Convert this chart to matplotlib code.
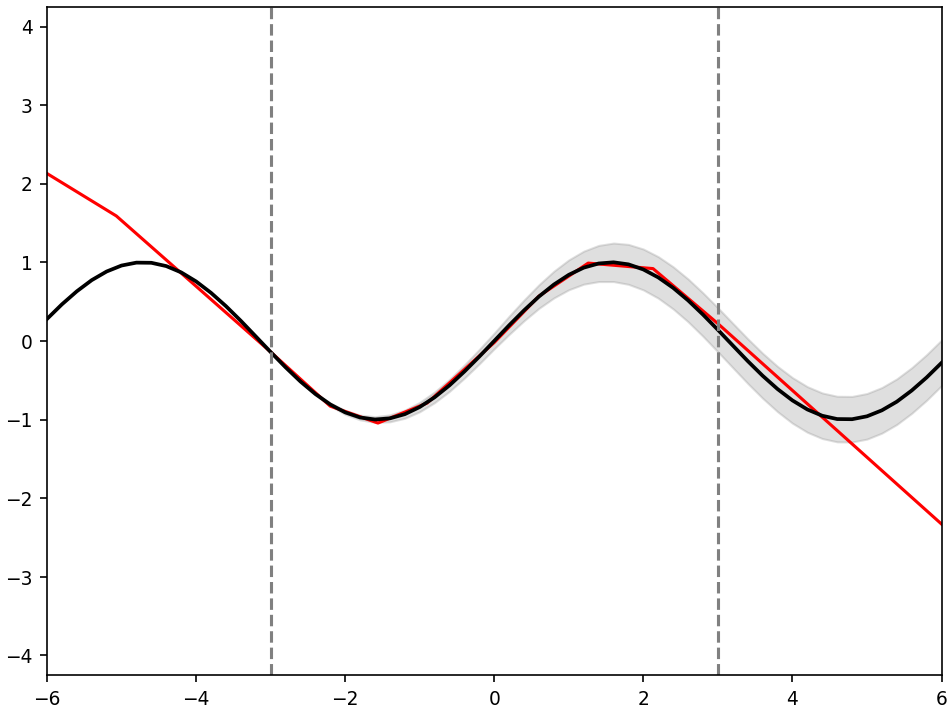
"""
Sine curve with a widening grey uncertainty band, a red piecewise-linear fit
and dashed markers at x = -3 and x = 3 -> out.png
"""
import matplotlib
matplotlib.use("Agg")
import matplotlib.pyplot as plt

# black curve, every 0.2
curve_x = [-6.0, -5.8, -5.6, -5.4, -5.2, -5.0, -4.8, -4.6, -4.4, -4.2,
           -4.0, -3.8, -3.6, -3.4, -3.2, -3.0, -2.8, -2.6, -2.4, -2.2,
           -2.0, -1.8, -1.6, -1.4, -1.2, -1.0, -0.8, -0.6, -0.4, -0.2,
           0.0, 0.2, 0.4, 0.6, 0.8, 1.0, 1.2, 1.4, 1.6, 1.8,
           2.0, 2.2, 2.4, 2.6, 2.8, 3.0, 3.2, 3.4, 3.6, 3.8,
           4.0, 4.2, 4.4, 4.6, 4.8, 5.0, 5.2, 5.4, 5.6, 5.8, 6.0]
curve_y = [0.279, 0.465, 0.631, 0.773, 0.883, 0.959, 0.996, 0.994, 0.952, 0.872,
           0.757, 0.612, 0.443, 0.256, 0.058, -0.141, -0.335, -0.516, -0.675, -0.808,
           -0.909, -0.974, -1.0, -0.985, -0.932, -0.841, -0.717, -0.565, -0.389, -0.199,
           0.0, 0.199, 0.389, 0.565, 0.717, 0.841, 0.932, 0.985, 1.0, 0.974,
           0.909, 0.808, 0.675, 0.516, 0.335, 0.141, -0.058, -0.256, -0.443, -0.612,
           -0.757, -0.872, -0.952, -0.994, -0.996, -0.959, -0.883, -0.773, -0.631, -0.465, -0.279]

# half-width of the grey band, from x = -3 onwards
band_half = [0.0, 0.004, 0.008, 0.013, 0.018, 0.025, 0.03, 0.036, 0.044, 0.052,
             0.06, 0.068, 0.076, 0.084, 0.092, 0.1, 0.116, 0.132, 0.15, 0.17,
             0.19, 0.21, 0.23, 0.245, 0.254, 0.26, 0.264, 0.268, 0.272, 0.276,
             0.28, 0.282, 0.284, 0.286, 0.288, 0.29, 0.29, 0.29, 0.29, 0.29,
             0.29, 0.29, 0.29, 0.29, 0.29, 0.29]

# red piecewise-linear line
red_x = [-6.0, -5.07, -3.0, -2.2, -1.56, -0.9, 0.0, 0.6, 1.26, 2.13, 3.0, 6.0]
red_y = [2.13, 1.59, -0.14, -0.83, -1.045, -0.79, -0.02, 0.57, 0.99, 0.92, 0.22, -2.33]

vlines = [-3, 3]

start = curve_x.index(-3.0)
band_x = curve_x[start:]
band_mid = curve_y[start:]
band_lo = [m - h for m, h in zip(band_mid, band_half)]
band_hi = [m + h for m, h in zip(band_mid, band_half)]

fig, ax = plt.subplots(figsize=(6.4, 4.8), dpi=148.6)
fig.subplots_adjust(left=0.0494, right=0.990, bottom=0.0533, top=0.990)

ax.fill_between(band_x, band_lo, band_hi, color="gray", alpha=0.25)
ax.plot(red_x, red_y, color="red", lw=1.5)
ax.plot(curve_x, curve_y, color="black", lw=1.8)
for v in vlines:
    ax.axvline(v, color="gray", ls="--", lw=1.5)

ax.set_xlim(-6, 6)
ax.set_ylim(-4.25, 4.25)
ax.set_yticks([-4, -3, -2, -1, 0, 1, 2, 3, 4])
ax.tick_params(labelsize=9)

fig.savefig("out.png", dpi=148.6)
